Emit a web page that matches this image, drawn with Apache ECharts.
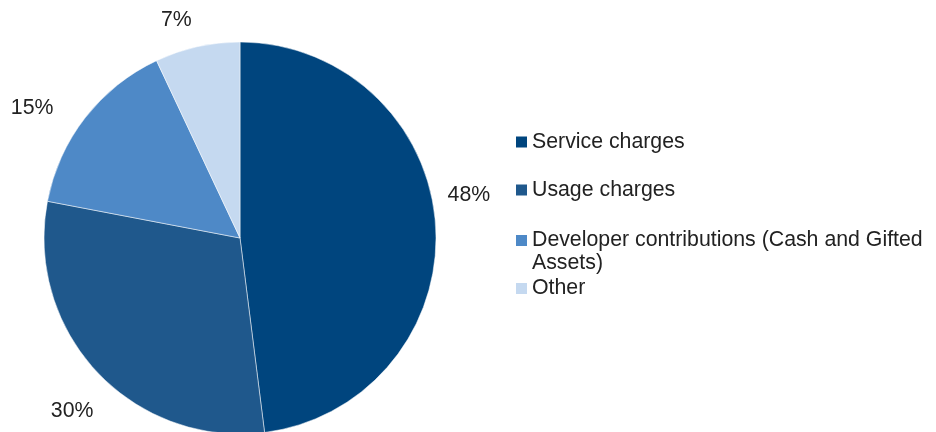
<!DOCTYPE html>
<html>
<head>
<meta charset="utf-8">
<style>
  html, body { margin: 0; padding: 0; background: #ffffff; }
  #chart { width: 936px; height: 432px; }
</style>
<script src="https://cdn.jsdelivr.net/npm/echarts@6/dist/echarts.min.js"></script>
</head>
<body>
<div id="chart"></div>
<script>
// Revenue sources, share of total (%)
const categories = [
  'Service charges',
  'Usage charges',
  'Developer contributions (Cash and Gifted Assets)',
  'Other'
];
const shares = [48, 30, 15, 7];

const sliceColors = ['#00457e', '#1f588c', '#4e89c7', '#c5d9f0'];
const FONT = '"Liberation Sans", Arial, sans-serif';
const TEXT_COLOR = '#222222';
const FONT_SIZE = 21.3;

// Nudges applied to the outside labels after the default pie layout
const labelNudge = [
  { dx: -9, dy: -30 },
  { dx: 13, dy: 28 },
  { dx: -14, dy: 0 },
  { dx: 3, dy: -11 }
];

// Legend rows: top edge of each entry
const legendRowTop = [130.5, 178.5, 229, 277];

const chart = echarts.init(document.getElementById('chart'), null, { renderer: 'canvas' });

const legendText = {
  fontFamily: FONT,
  fontSize: FONT_SIZE,
  lineHeight: 23,
  color: TEXT_COLOR
};

const legends = categories.map((name, i) => {
  const twoLine = i === 2;
  return {
    orient: 'vertical',
    left: 516,
    top: legendRowTop[i],
    padding: 0,
    itemWidth: 11,
    itemHeight: twoLine ? 45 : 11,
    // the long entry wraps onto a second line, with the swatch beside the first line
    icon: twoLine
      ? 'path://M0,5.5H11V16.5H0Z M0,0H11V0.01H0Z M0,45H11V45.01H0Z'
      : 'rect',
    itemStyle: { borderWidth: 0 },
    selectedMode: false,
    data: [name],
    formatter: n => twoLine ? n.replace(' Assets)', '\nAssets)') : n,
    textStyle: legendText
  };
});

chart.setOption({
  animation: false,
  color: sliceColors,
  legend: legends,
  series: [{
    type: 'pie',
    center: [240, 238],
    radius: 196,
    startAngle: 90,
    clockwise: true,
    avoidLabelOverlap: false,
    itemStyle: { borderColor: '#ffffff', borderWidth: 0.5 },
    emphasis: { disabled: true },
    label: {
      show: true,
      position: 'outside',
      formatter: p => p.value + '%',
      fontFamily: FONT,
      fontSize: FONT_SIZE,
      color: TEXT_COLOR,
      distanceToLabelLine: 5
    },
    labelLine: { show: false, length: 16, length2: 0 },
    labelLayout: p => labelNudge[p.dataIndex],
    data: categories.map((name, i) => ({ name, value: shares[i] }))
  }]
});
</script>
</body>
</html>
